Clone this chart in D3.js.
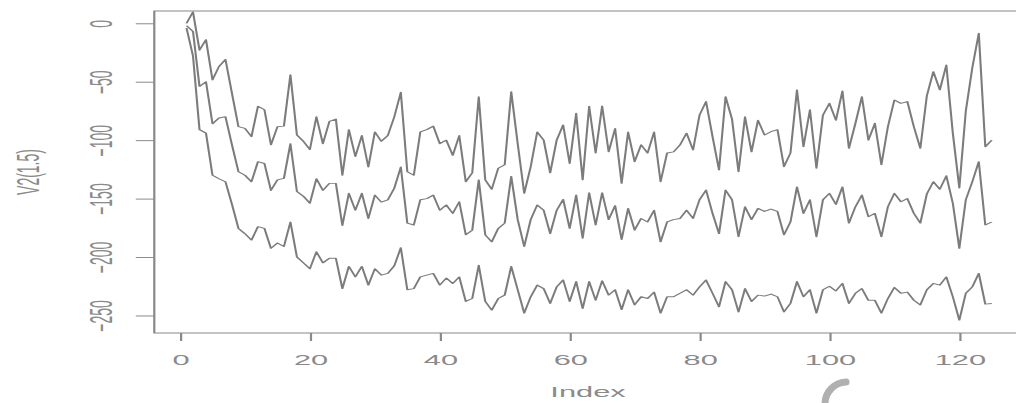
<!DOCTYPE html>
<html>
<head>
<meta charset="utf-8">
<script src="https://cdn.jsdelivr.net/npm/d3@7"></script>
<style>
  html, body { margin: 0; padding: 0; background: #fff; }
  svg { display: block; }
  text { font-family: "Liberation Sans", Arial, sans-serif; }
</style>
</head>
<body>
<script>
// Three V2 series plotted against their index (1..125)
const seriesUpper = [
  0, 9.7, -23, -14, -48.5, -37, -31, -60, -88.5, -90,
  -97, -71, -74, -104, -88.5, -88, -44, -95.6, -101, -108,
  -80, -103, -84, -82, -130, -91, -114, -96, -123, -93,
  -101, -96, -80, -59, -127, -130, -93, -91, -88, -103,
  -100, -113, -96, -135.6, -128, -62.8, -134, -142, -124, -121,
  -58.5, -103, -145.5, -122.7, -93, -100, -128, -100, -87, -120,
  -77, -134, -71, -111, -70.8, -110, -90, -137, -93, -118.4,
  -104, -111, -93, -135.6, -111, -110, -104, -94, -108.4, -78.5,
  -67, -97, -125.6, -62.8, -82, -127, -80, -110, -83, -95.6,
  -92.8, -91, -122.7, -111, -57, -105.6, -74, -124, -78.5, -68.5,
  -83, -58, -107, -85.6, -62.8, -100, -85.6, -121, -88.5, -65.6,
  -68.5, -67, -88.5, -107, -62, -41.4, -57, -35.7, -94, -141,
  -75, -38, -8.6, -105.6, -100
];
const seriesMiddle = [
  -2, -7, -54, -50, -86, -81, -80, -104, -127, -130,
  -135.6, -118.4, -120, -143, -134, -132.7, -103, -144, -148, -154,
  -133, -143, -137, -137, -173, -145.5, -160, -145.5, -167, -147,
  -153, -151, -141, -123, -171, -172.6, -151, -150, -147, -160,
  -155.5, -162.7, -152.7, -181, -177, -134, -181, -187, -175.5, -171,
  -131, -168, -191, -168, -155.5, -160, -180, -160, -150.7, -175.5,
  -147, -184, -145, -172.6, -145, -168, -156, -185, -158.4, -177,
  -167, -170, -160, -187, -170, -168, -167, -160, -167, -151,
  -142.7, -162.7, -180, -142.7, -151, -182.6, -157, -168, -158.4, -161,
  -159, -161, -181, -170, -140, -162.7, -151, -182.6, -151, -145.5,
  -155, -140, -171, -157, -147, -165.5, -162.7, -182.6, -157, -145.5,
  -152.7, -150, -162.7, -171, -146, -135.6, -142, -130.5, -154, -192.6,
  -151, -135.6, -118.4, -172.6, -170
];
const seriesLower = [
  -4, -28, -91, -94, -130, -133, -135.6, -155, -175.5, -180,
  -185.5, -174, -175.5, -192.6, -188, -191, -170, -200, -205, -210,
  -195.5, -205, -201, -201, -227, -208, -217, -208, -224, -210,
  -215.5, -214, -207.5, -192, -228, -227, -217, -215.5, -214, -224,
  -218, -222.6, -217, -238, -235.5, -207, -238, -245.4, -235.5, -232.6,
  -208, -228, -248, -234, -224, -227, -239.7, -225.5, -219.7, -238,
  -221, -244, -221, -237, -220.3, -232.6, -228, -245, -228, -241,
  -234, -235.5, -230, -248, -234, -234, -231, -228, -232.6, -225.5,
  -219.7, -231, -242.6, -221, -228, -247, -227, -238, -232.6, -233.4,
  -231.7, -234, -247, -239.7, -221, -234, -228, -248, -228, -225,
  -229, -222.6, -239.7, -231, -227, -237, -237, -248, -235.5, -226,
  -231, -230, -237, -241, -228, -222.6, -224, -217, -234, -254,
  -231, -225.5, -214, -240.3, -239.7
];
const xTicks = [0, 20, 40, 60, 80, 100, 120];
const yTicks = [0, -50, -100, -150, -200, -250];
const xLabel = "Index";
const yLabel = "V2(1.5)";

const W = 1016, H = 403;
const SX = 2.2;            // horizontal stretch of the whole drawing
const ink = "#8a8a8a";
const lineInk = "#7c7c7c";

const svg = d3.select("body").append("svg").attr("width", W).attr("height", H);
const g = svg.append("g").attr("transform", `scale(${SX},1)`);

const x = d3.scaleLinear().domain([-3.96, 129.96]).range([154.3 / SX, 1024 / SX]);
const y = d3.scaleLinear().domain([-265, 10.5]).range([333, 11]);

const [x0, x1] = x.range();
const [yb, yt] = y.range();

// plot frame
g.append("rect")
  .attr("x", x0).attr("y", yt)
  .attr("width", x1 - x0).attr("height", yb - yt)
  .attr("fill", "none").attr("stroke", "#888").attr("stroke-width", 1);

// series
const line = d3.line().x((d, i) => x(i + 1)).y(d => y(d));
[seriesUpper, seriesMiddle, seriesLower].forEach(s => {
  g.append("path").datum(s)
    .attr("d", line)
    .attr("fill", "none")
    .attr("stroke", lineInk)
    .attr("stroke-width", 0.95)
    .attr("stroke-linejoin", "round");
});

// x axis
const gx = g.append("g").attr("transform", `translate(0,${yb})`)
  .call(d3.axisBottom(x).tickValues(xTicks).tickSize(8).tickFormat(d3.format("d")));
gx.select(".domain").remove();
gx.selectAll(".tick line").attr("stroke", ink).attr("stroke-width", 1);
gx.selectAll(".tick text")
  .attr("y", 27).attr("dy", null)
  .attr("dominant-baseline", "central")
  .attr("fill", ink).style("font-size", "14px")
  .style("font-family", '"Liberation Sans", Arial, sans-serif');

// y axis with labels parallel to the axis
const gy = g.append("g").attr("transform", `translate(${x0},0)`)
  .call(d3.axisLeft(y).tickValues(yTicks).tickSize(18.5 / SX).tickFormat(d3.format("d")));
gy.select(".domain").remove();
gy.selectAll(".tick line").attr("stroke", ink).attr("stroke-width", 1);
gy.selectAll(".tick text")
  .attr("x", null).attr("dy", null)
  .attr("transform", `translate(${101 / SX - x0},0) rotate(-90)`)
  .attr("text-anchor", "middle")
  .attr("dominant-baseline", "central")
  .attr("fill", ink).style("font-size", "14px")
  .style("font-family", '"Liberation Sans", Arial, sans-serif');

// axis titles
g.append("text")
  .attr("x", 588 / SX).attr("y", 392)
  .attr("text-anchor", "middle").attr("dominant-baseline", "central")
  .attr("fill", ink).style("font-size", "14px")
  .text(xLabel);

g.append("text")
  .attr("transform", `translate(${28 / SX},172) rotate(-90)`)
  .attr("text-anchor", "middle").attr("dominant-baseline", "central")
  .attr("fill", ink).style("font-size", "14px")
  .text(yLabel);

// grey curved stroke at the lower edge
svg.append("path")
  .attr("d", "M846,382 A22,22 0 0 0 825,404")
  .attr("fill", "none").attr("stroke", "#b0b0b0")
  .attr("stroke-width", 7).attr("stroke-linecap", "round");
</script>
</body>
</html>
